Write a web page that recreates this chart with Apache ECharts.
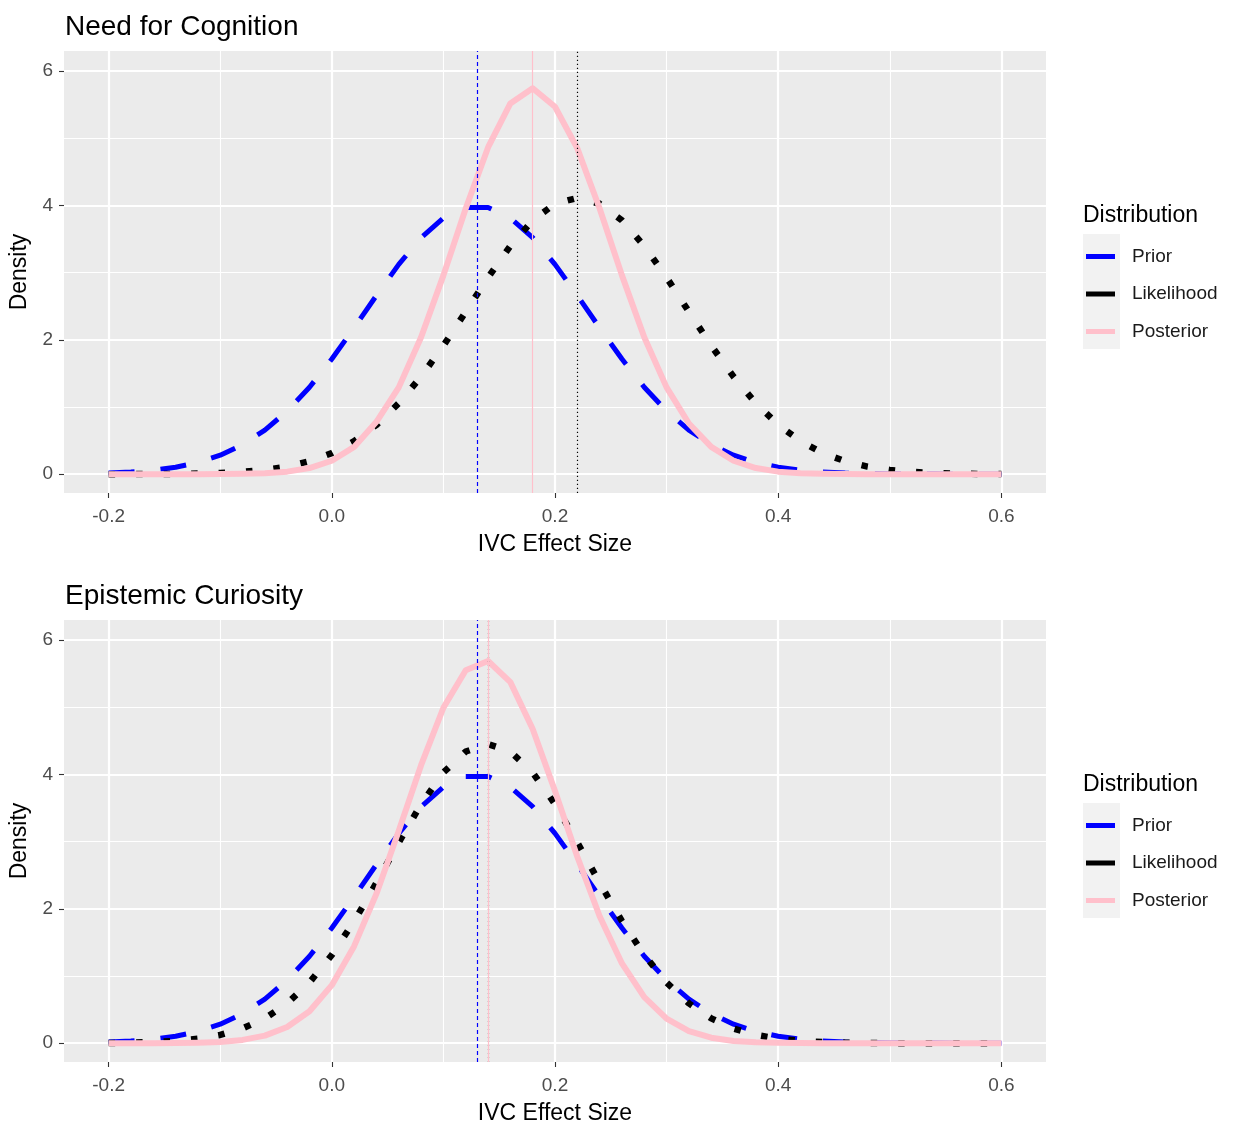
<!DOCTYPE html>
<html>
<head>
<meta charset="utf-8">
<title>IVC Effect Size</title>
<script src="https://cdn.jsdelivr.net/npm/echarts@6/dist/echarts.min.js"></script>
<style>
  html, body { margin: 0; padding: 0; background: #fff; }
  #chart { width: 1238px; height: 1127px; }
</style>
</head>
<body>
<div id="chart"></div>
<script>
// x grid of the density curves
const xs = [-0.2, -0.18, -0.16, -0.14, -0.12, -0.1, -0.08, -0.06, -0.04, -0.02,
  0, 0.02, 0.04, 0.06, 0.08, 0.1, 0.12, 0.14, 0.16, 0.18,
  0.2, 0.22, 0.24, 0.26, 0.28, 0.3, 0.32, 0.34, 0.36, 0.38,
  0.4, 0.42, 0.44, 0.46, 0.48, 0.5, 0.52, 0.54, 0.56, 0.58, 0.6];

// Need for Cognition
const ncPrior = [0.017, 0.033, 0.060, 0.104, 0.175, 0.283, 0.440, 0.656, 0.940, 1.295,
  1.714, 2.179, 2.661, 3.123, 3.521, 3.814, 3.970, 3.970, 3.814, 3.521,
  3.123, 2.661, 2.179, 1.714, 1.295, 0.940, 0.656, 0.440, 0.283, 0.175,
  0.104, 0.060, 0.033, 0.017, 0.009, 0.004, 0.002, 0.001, 0, 0, 0];
const ncLike = [0.000, 0.001, 0.002, 0.004, 0.009, 0.018, 0.034, 0.064, 0.113, 0.193,
  0.314, 0.491, 0.735, 1.056, 1.452, 1.914, 2.418, 2.928, 3.398, 3.778,
  4.026, 4.113, 4.026, 3.778, 3.398, 2.928, 2.418, 1.914, 1.452, 1.056,
  0.735, 0.491, 0.314, 0.193, 0.113, 0.064, 0.034, 0.018, 0.009, 0.004, 0.002];
const ncPost = [0, 0, 0, 0, 0, 0.002, 0.005, 0.015, 0.038, 0.091,
  0.200, 0.406, 0.780, 1.292, 2.039, 2.960, 3.955, 4.864, 5.520, 5.745,
  5.470, 4.850, 3.955, 2.960, 2.039, 1.292, 0.755, 0.406, 0.200, 0.091,
  0.038, 0.015, 0.005, 0.002, 0, 0, 0, 0, 0, 0, 0];
const ncMeans = [0.131, 0.222, 0.182]; // prior, likelihood, posterior

// Epistemic Curiosity
const ecPrior = [0.017, 0.033, 0.060, 0.104, 0.175, 0.283, 0.440, 0.656, 0.940, 1.295,
  1.714, 2.179, 2.661, 3.123, 3.521, 3.814, 3.970, 3.970, 3.814, 3.521,
  3.123, 2.661, 2.179, 1.714, 1.295, 0.940, 0.656, 0.440, 0.283, 0.175,
  0.104, 0.060, 0.033, 0.017, 0.009, 0.004, 0.002, 0.001, 0, 0, 0];
const ecLike = [0.003, 0.008, 0.016, 0.034, 0.066, 0.123, 0.219, 0.369, 0.592, 0.904,
  1.313, 1.816, 2.388, 2.988, 3.558, 4.030, 4.342, 4.452, 4.342, 4.030,
  3.558, 2.988, 2.388, 1.816, 1.313, 0.904, 0.592, 0.369, 0.219, 0.123,
  0.066, 0.034, 0.016, 0.008, 0.003, 0.001, 0, 0, 0, 0, 0];
const ecPost = [0, 0, 0, 0.002, 0.007, 0.019, 0.049, 0.113, 0.242, 0.475,
  0.864, 1.444, 2.226, 3.162, 4.139, 4.994, 5.553, 5.690, 5.375, 4.678,
  3.753, 2.775, 1.890, 1.187, 0.687, 0.366, 0.180, 0.082, 0.034, 0.013,
  0.005, 0.002, 0, 0, 0, 0, 0, 0, 0, 0, 0];
const ecMeans = [0.131, 0.141, 0.137];

const xTicks = [-0.2, 0, 0.2, 0.4, 0.6];
const xMinor = [-0.1, 0.1, 0.3, 0.5];
const yTicks = [0, 2, 4, 6];
const yMinor = [1, 3, 5];
const seriesNames = ["Prior", "Likelihood", "Posterior"];
const panelTitles = ["Need for Cognition", "Epistemic Curiosity"];

const FONT = "Liberation Sans, Arial, sans-serif";
const colors = ["#0000FF", "#000000", "#FFC0CB"];
const panelTop = [51, 620];

const chart = echarts.init(document.getElementById("chart"), null, { renderer: "canvas" });

function pairs(vals) {
  return xs.map((x, i) => [x, vals[i]]);
}

let grids = [], xAxes = [], yAxes = [], series = [], titles = [], legends = [], graphics = [];

[[ncPrior, ncLike, ncPost, ncMeans], [ecPrior, ecLike, ecPost, ecMeans]].forEach(function (p, g) {
  const top = panelTop[g];
  grids.push({
    left: 64, top: top, width: 982, height: 442,
    show: true, backgroundColor: "#EBEBEB", borderWidth: 0
  });
  // main x axis
  xAxes.push({
    type: "value", gridIndex: g, min: -0.24, max: 0.64, position: "bottom",
    name: "IVC Effect Size", nameLocation: "middle", nameGap: 40,
    nameTextStyle: { fontSize: 23, color: "#000", fontFamily: FONT },
    axisLine: { show: false, onZero: false },
    axisTick: { show: true, length: 5, customValues: xTicks, lineStyle: { color: "#333", width: 1.1 } },
    axisLabel: { customValues: xTicks, formatter: v => v.toFixed(1), color: "#4D4D4D", fontSize: 19, margin: 14, fontFamily: FONT },
    splitLine: { show: true, lineStyle: { color: "#fff", width: 2.2 } }
  });
  // minor gridlines
  xAxes.push({
    type: "value", gridIndex: g, min: -0.24, max: 0.64, position: "top",
    axisLine: { show: false, onZero: false },
    axisTick: { show: false, customValues: xMinor },
    axisLabel: { show: false, customValues: xMinor },
    splitLine: { show: true, lineStyle: { color: "#fff", width: 1.1 } }
  });
  yAxes.push({
    type: "value", gridIndex: g, min: -0.28, max: 6.3, position: "left",
    name: "Density", nameLocation: "middle", nameRotate: 90, nameGap: 21,
    nameTextStyle: { fontSize: 23, color: "#000", fontFamily: FONT },
    axisLine: { show: false, onZero: false },
    axisTick: { show: true, length: 5, customValues: yTicks, lineStyle: { color: "#333", width: 1.1 } },
    axisLabel: { customValues: yTicks, color: "#4D4D4D", fontSize: 19, margin: 11, fontFamily: FONT },
    splitLine: { show: true, lineStyle: { color: "#fff", width: 2.2 } }
  });
  yAxes.push({
    type: "value", gridIndex: g, min: -0.28, max: 6.3, position: "right",
    axisLine: { show: false, onZero: false },
    axisTick: { show: false, customValues: yMinor },
    axisLabel: { show: false, customValues: yMinor },
    splitLine: { show: true, lineStyle: { color: "#fff", width: 1.1 } }
  });

  const lineTypes = [[26, 26], [6.5, 21], "solid"];
  const lineWidths = [5, 6.5, 6];
  const vlineTypes = [[4, 3], [1.2, 2.8], "solid"];
  for (let k = 0; k < 3; k++) {
    series.push({
      name: seriesNames[k], type: "line",
      xAxisIndex: 2 * g, yAxisIndex: 2 * g,
      data: pairs(p[k]),
      showSymbol: false, symbol: "none", smooth: false, silent: true,
      z: 2 + k,
      color: colors[k],
      itemStyle: { color: colors[k] },
      lineStyle: { color: colors[k], width: lineWidths[k], type: lineTypes[k], cap: "butt", join: "round" },
      markLine: {
        silent: true, symbol: "none", animation: false,
        label: { show: false },
        lineStyle: { color: colors[k], width: 1.2, type: vlineTypes[k] },
        data: [{ xAxis: p[3][k] }]
      }
    });
  }

  titles.push({
    text: panelTitles[g], left: 65, top: top - 38, padding: 0,
    textStyle: { fontSize: 28, fontWeight: "normal", color: "#000", fontFamily: FONT }
  });
  titles.push({
    text: "Distribution", left: 1083, top: top + 153, padding: 0,
    textStyle: { fontSize: 23, fontWeight: "normal", color: "#000", fontFamily: FONT }
  });
  graphics.push({
    type: "rect", left: 1083, top: top + 183, z: 0,
    shape: { width: 37, height: 115 },
    style: { fill: "#F2F2F2" }
  });
  legends.push({
    orient: "vertical", left: 1086, top: top + 196, padding: 0,
    icon: "rect", itemWidth: 29, itemHeight: 5, itemGap: 18.5,
    selectedMode: false,
    data: seriesNames,
    itemStyle: { borderWidth: 0 },
    textStyle: { fontSize: 19, color: "#1A1A1A", fontFamily: FONT, padding: [0, 0, 0, 12] }
  });
});

chart.setOption({
  animation: false,
  backgroundColor: "#fff",
  textStyle: { fontFamily: FONT },
  title: titles,
  legend: legends,
  graphic: graphics,
  grid: grids,
  xAxis: xAxes,
  yAxis: yAxes,
  series: series
});
</script>
</body>
</html>
